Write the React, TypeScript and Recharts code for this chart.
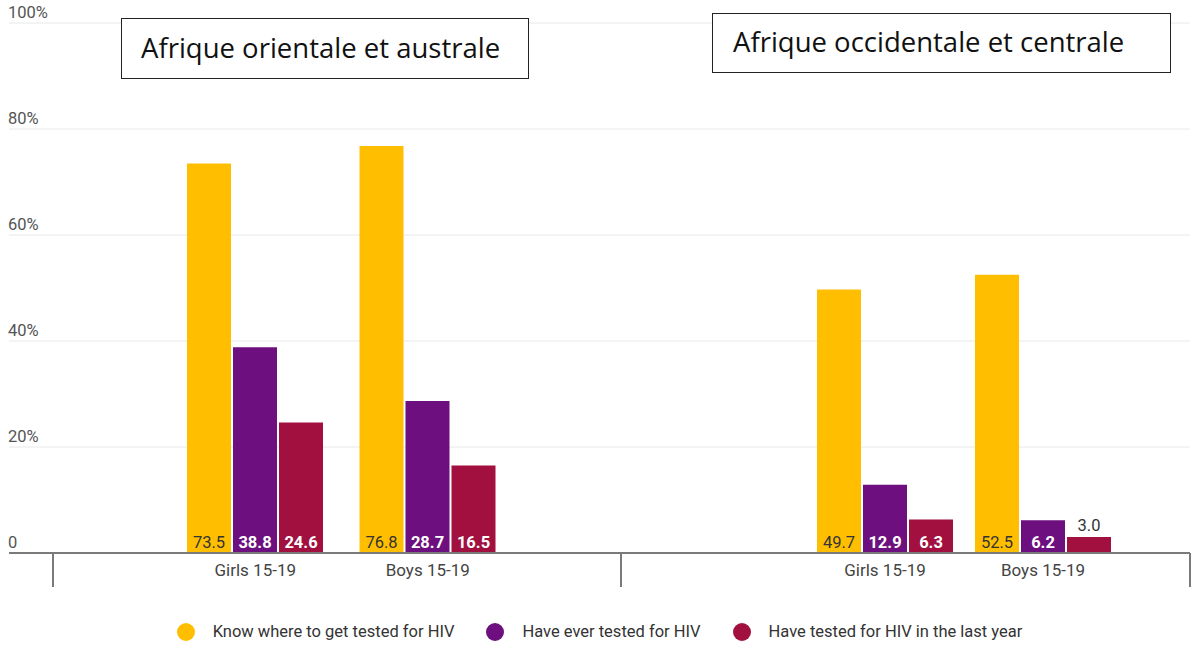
import * as React from 'react';
import {
  Bar,
  BarChart,
  CartesianGrid,
  LabelList,
  XAxis,
  YAxis,
} from 'recharts';

const categories = ['Girls 15-19', 'Boys 15-19'];
const regionNames = ['Afrique orientale et australe', 'Afrique occidentale et centrale'];

// Afrique orientale et australe
const knowEast = [73.5, 76.8];
const everEast = [38.8, 28.7];
const lastYearEast = [24.6, 16.5];

// Afrique occidentale et centrale
const knowWest = [49.7, 52.5];
const everWest = [12.9, 6.2];
const lastYearWest = [6.3, 3.0];

const yTicks = [0, 20, 40, 60, 80, 100];
const yTickLabels = ['0', '20%', '40%', '60%', '80%', '100%'];

const SERIES = [
  { key: 'know', name: 'Know where to get tested for HIV', color: '#FFBF00', text: '#333333', bold: false },
  { key: 'ever', name: 'Have ever tested for HIV', color: '#6D0F7E', text: '#ffffff', bold: true },
  { key: 'lastYear', name: 'Have tested for HIV in the last year', color: '#A1103F', text: '#ffffff', bold: true },
];

const eastRows = categories.map((c, i) => ({
  category: c,
  know: knowEast[i],
  ever: everEast[i],
  lastYear: lastYearEast[i],
}));

const westRows = categories.map((c, i) => ({
  category: c,
  know: knowWest[i],
  ever: everWest[i],
  lastYear: lastYearWest[i],
}));

const FONT = 'Roboto, "Noto Sans", sans-serif';
const AXIS_GREY = '#7a7a7a';

function YTick(props: any) {
  const { y, payload } = props;
  const idx = yTicks.indexOf(payload.value);
  return (
    <text x={8} y={y - 5} fontSize={16.5} fill="#555" fontFamily={FONT}>
      {yTickLabels[idx]}
    </text>
  );
}

function makeLabel(textColor: string, bold: boolean) {
  return function BarLabel(props: any) {
    const vb = props.viewBox || {};
    const x = props.x ?? vb.x;
    const y = props.y ?? vb.y;
    const width = props.width ?? vb.width;
    const height = props.height ?? vb.height;
    const value = Number(props.value);
    const cx = x + width / 2;
    if (height < 22) {
      return (
        <text x={cx} y={y - 6} textAnchor="middle" fontSize={16.5} fill="#333" fontFamily={FONT}>
          {value.toFixed(1)}
        </text>
      );
    }
    return (
      <text
        x={cx}
        y={y + height - 5}
        textAnchor="middle"
        fontSize={16.5}
        fill={textColor}
        fontWeight={bold ? 700 : 400}
        fontFamily={FONT}
      >
        {value.toFixed(1)}
      </text>
    );
  };
}

function RegionChart({
  rows,
  width,
  margin,
  padding,
  showY,
}: {
  rows: any[];
  width: number;
  margin: { top: number; right: number; left: number; bottom: number };
  padding: { left: number; right: number };
  showY: boolean;
}) {
  return (
    <BarChart width={width} height={600} data={rows} margin={margin} barSize={44} barGap={2}>
      <CartesianGrid vertical={false} stroke="#e8e8e8" />
      <XAxis
        dataKey="category"
        height={47}
        padding={padding}
        axisLine={{ stroke: AXIS_GREY, strokeWidth: 2 }}
        tickLine={false}
        tickSize={0}
        tickMargin={11}
        tick={{ fontSize: 17, fill: '#444', fontFamily: FONT }}
      />
      <YAxis
        domain={[0, 100]}
        ticks={yTicks}
        mirror
        hide={!showY}
        axisLine={false}
        tickLine={false}
        tick={<YTick />}
      />
      {SERIES.map((s) => (
        <Bar key={s.key} dataKey={s.key} name={s.name} fill={s.color} isAnimationActive={false}>
          <LabelList dataKey={s.key} content={makeLabel(s.text, s.bold)} />
        </Bar>
      ))}
    </BarChart>
  );
}

const boxStyle: React.CSSProperties = {
  position: 'absolute',
  border: '1.5px solid #222',
  background: '#fff',
  fontFamily: '"Open Sans", "Noto Sans", sans-serif',
  fontSize: 27.5,
  color: '#111',
  boxSizing: 'border-box',
  whiteSpace: 'nowrap',
};

const dividerStyle = (left: number): React.CSSProperties => ({
  position: 'absolute',
  left,
  top: 553,
  width: 2,
  height: 34,
  background: AXIS_GREY,
});

export default function App() {
  return (
    <div
      style={{
        position: 'absolute',
        left: 0,
        top: 0,
        width: 1192,
        height: 651,
        background: '#fff',
        overflow: 'hidden',
      }}
    >
      <div style={{ position: 'absolute', left: 0, top: 0 }}>
        <RegionChart
          rows={eastRows}
          width={621}
          margin={{ top: 23, right: 0, left: 9, bottom: 0 }}
          padding={{ left: 160, right: 107 }}
          showY
        />
      </div>
      <div style={{ position: 'absolute', left: 621, top: 0 }}>
        <RegionChart
          rows={westRows}
          width={571}
          margin={{ top: 23, right: 2, left: 0, bottom: 0 }}
          padding={{ left: 185, right: 68 }}
          showY={false}
        />
      </div>

      <div style={dividerStyle(52)} />
      <div style={dividerStyle(620)} />
      <div style={dividerStyle(1189)} />

      <div style={{ ...boxStyle, left: 121, top: 18, width: 408, height: 61, paddingLeft: 19, lineHeight: '57px' }}>
        {regionNames[0]}
      </div>
      <div style={{ ...boxStyle, left: 712, top: 13, width: 459, height: 60, paddingLeft: 20, lineHeight: '55px' }}>
        {regionNames[1]}
      </div>

      <div
        style={{
          position: 'absolute',
          left: 0,
          top: 622,
          width: 1199,
          display: 'flex',
          justifyContent: 'center',
          alignItems: 'center',
          gap: 32,
          fontFamily: FONT,
          fontSize: 16.5,
          color: '#333',
        }}
      >
        {SERIES.map((s) => (
          <div key={s.key} style={{ display: 'flex', alignItems: 'center', gap: 18 }}>
            <span
              style={{
                display: 'inline-block',
                width: 18,
                height: 18,
                borderRadius: '50%',
                background: s.color,
              }}
            />
            <span>{s.name}</span>
          </div>
        ))}
      </div>
    </div>
  );
}
